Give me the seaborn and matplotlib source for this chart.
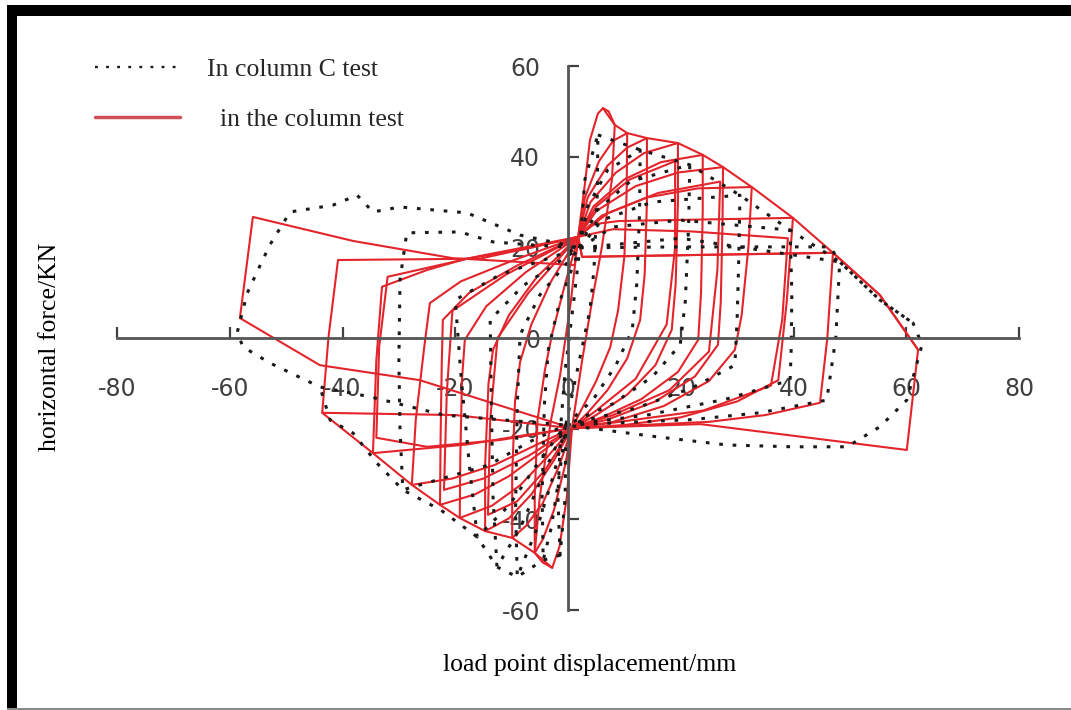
import matplotlib
matplotlib.use('Agg')
import matplotlib.pyplot as plt
import seaborn as sns
import pandas as pd
from matplotlib.lines import Line2D
from matplotlib.patches import Rectangle

# hysteresis curves (displacement mm, force kN)
# red solid: "in the column test"
red_c1 = [(1.8, 22.3), (3.0, 34.0), (3.9, 43.7), (5.3, 49.5), (6.2, 50.7), (7.2, 50.0), (8.3, 47.0),
          (7.8, 35.0), (6.0, 20.0), (4.3, 8.4), (2.5, -5.0), (0.7, -19.9), (-0.2, -35.0), (-1.5, -46.0),
          (-2.8, -50.7), (-4.5, -49.5), (-5.9, -47.4), (-5.0, -35.0), (-3.0, -18.0), (-1.4, -8.2),
          (0.5, 8.0), (1.8, 22.3)]
red_c2 = [(1.8, 22.3), (3.0, 31.0), (5.5, 39.0), (8.0, 43.5), (10.5, 45.2), (10.4, 32.0), (10.0, 18.0),
          (8.9, 6.2), (7.5, -2.0), (5.0, -9.5), (2.5, -15.5), (0.7, -19.9), (-0.5, -28.0), (-2.5, -38.0),
          (-4.5, -44.5), (-5.9, -47.4), (-5.9, -35.0), (-5.4, -18.0), (-4.1, -7.1), (-2.8, 1.0),
          (-0.5, 12.0), (1.8, 22.3)]
red_c3 = [(1.8, 22.3), (3.5, 31.0), (7.0, 38.0), (10.5, 42.0), (14.0, 44.1), (14.0, 30.0), (13.6, 14.0),
          (12.8, 4.0), (10.5, -4.5), (7.0, -11.5), (3.5, -16.5), (0.7, -19.9), (-1.5, -28.0), (-4.5, -36.5),
          (-7.5, -41.5), (-9.9, -44.1), (-9.9, -30.0), (-9.4, -14.0), (-8.5, -5.3), (-6.5, 3.0),
          (-3.0, 12.5), (1.8, 22.3)]
red_c4 = [(1.8, 22.3), (4.0, 30.0), (8.5, 36.5), (13.5, 40.8), (19.5, 43.0), (19.5, 30.0), (19.1, 12.0),
          (18.4, 1.8), (15.5, -6.0), (10.5, -12.5), (5.0, -17.0), (0.7, -19.9), (-2.5, -27.0), (-6.5, -34.5),
          (-10.5, -39.8), (-14.7, -42.6), (-14.7, -28.0), (-14.1, -10.0), (-13.3, -2.6), (-10.5, 5.0),
          (-5.5, 13.5), (1.8, 22.3)]
red_c5 = [(1.8, 22.3), (4.5, 29.0), (10.0, 35.0), (16.5, 38.8), (23.9, 40.4), (23.9, 28.0), (23.6, 10.0),
          (23.1, -0.4), (19.5, -7.5), (13.0, -13.5), (6.0, -17.5), (0.7, -19.9), (-3.5, -26.0),
          (-8.5, -32.5), (-13.5, -37.0), (-19.2, -39.7), (-19.1, -26.0), (-18.8, -9.0), (-18.3, -0.4),
          (-14.5, 7.0), (-7.5, 14.5), (1.8, 22.3)]
red_c6 = [(1.8, 22.3), (5.0, 28.0), (12.0, 33.5), (19.5, 36.5), (27.5, 37.7), (27.4, 25.0), (27.1, 8.0),
          (26.6, -1.5), (22.5, -8.5), (15.5, -14.0), (7.0, -18.0), (0.7, -19.9), (-4.5, -25.0),
          (-10.5, -30.5), (-16.5, -34.5), (-22.7, -36.8), (-22.6, -22.0), (-22.4, -6.0), (-22.2, 4.0),
          (-17.5, 10.0), (-9.0, 16.0), (1.8, 22.3)]
red_c7 = [(1.8, 22.3), (6.0, 27.0), (14.0, 31.0), (23.0, 33.0), (32.6, 33.3), (32.0, 20.0), (30.8, 5.0),
          (29.6, -2.6), (25.0, -9.5), (17.0, -15.0), (8.0, -18.5), (0.7, -19.9), (-5.5, -23.5),
          (-13.0, -28.0), (-20.5, -31.0), (-27.7, -32.4), (-27.0, -18.0), (-25.5, -2.0), (-24.5, 7.7),
          (-19.0, 12.5), (-10.0, 17.0), (1.8, 22.3)]
red_c8 = [(1.8, 22.3), (4.0, 25.0), (9.0, 25.8), (39.9, 26.5), (38.8, 8.0), (37.3, -9.3), (30.0, -14.0),
          (20.0, -17.5), (10.0, -19.2), (0.7, -19.9), (-8.0, -21.5), (-18.0, -23.5), (-34.6, -25.4),
          (-34.0, -5.0), (-33.0, 11.3), (-25.0, 15.0), (-18.0, 17.5), (-8.0, 19.5), (1.8, 22.3)]
red_c9 = [(1.8, 22.3), (2.5, 17.9), (47.0, 18.8), (46.0, 0.0), (44.7, -14.3), (35.0, -17.0), (25.0, -18.5),
          (0.7, -19.9), (-20.0, -17.0), (-43.6, -16.5), (-42.5, 0.0), (-40.8, 17.2), (-15.6, 17.5),
          (1.8, 22.3)]
red_c10 = [(1.8, 22.3), (2.5, 17.9), (47.0, 18.8), (55.3, 9.5), (62.1, -2.6), (60.1, -24.7), (23.5, -19.0),
           (0.7, -19.9), (-26.3, -9.3), (-44.0, -6.0), (-58.2, 4.4), (-55.9, 26.7), (-38.1, 21.4),
           (-20.4, 17.6), (1.2, 16.1), (1.8, 22.3)]
# second cycles at the same amplitudes
red_c4b = [(1.8, 22.3), (5.0, 29.0), (11.0, 35.0), (19.0, 39.0), (19.0, 20.0), (17.5, 3.0), (12.0, -9.0),
           (5.0, -16.0), (0.7, -19.9), (-4.0, -29.0), (-9.0, -36.0), (-14.2, -39.0), (-13.8, -18.0),
           (-12.5, 0.0), (-7.0, 10.0), (1.8, 22.3)]
red_c6b = [(1.8, 22.3), (7.0, 27.5), (16.0, 32.0), (27.0, 34.5), (26.5, 15.0), (25.0, -3.0), (18.0, -11.5),
           (8.0, -17.0), (0.7, -19.9), (-7.0, -26.0), (-15.0, -31.0), (-22.0, -33.5), (-21.5, -12.0),
           (-20.5, 6.0), (-11.0, 14.0), (1.8, 22.3)]
red_c8b = [(1.8, 22.3), (8.0, 24.0), (22.0, 23.5), (39.0, 22.0), (38.0, 4.0), (36.0, -10.5), (24.0, -16.0),
           (0.7, -19.9), (-12.0, -22.5), (-25.0, -24.0), (-34.0, -22.0), (-33.5, -2.0), (-32.0, 13.5),
           (-16.0, 18.0), (1.8, 22.3)]
red_env_pos = [(6.2, 50.7), (8.3, 47.0), (10.5, 45.2), (14.0, 44.1), (19.5, 43.0), (23.9, 40.4), (27.5, 37.7),
               (32.6, 33.3), (39.9, 26.5), (47.0, 18.8), (55.3, 9.5), (62.1, -2.6)]
red_env_neg = [(-2.8, -50.7), (-5.9, -47.4), (-9.9, -44.1), (-14.7, -42.6), (-19.2, -39.7), (-22.7, -36.8),
               (-27.7, -32.4), (-34.6, -25.4), (-43.6, -16.5)]

# black dotted: "In column C test"
blk_c1 = [(2.1, 19.9), (3.0, 35.0), (5.3, 44.8), (5.2, 32.0), (4.6, 15.0), (3.9, 6.2), (1.5, -8.0),
          (-0.4, -19.2), (-0.5, -35.0), (-1.4, -47.9), (-1.8, -35.0), (-1.2, -18.0), (-0.5, -7.1),
          (1.0, 8.0), (2.1, 19.9)]
blk_c2 = [(2.1, 19.9), (3.5, 29.0), (7.0, 37.0), (12.8, 41.5), (12.7, 28.0), (12.2, 12.0), (11.4, 1.8),
          (8.5, -6.0), (4.5, -13.5), (-0.4, -19.2), (-1.5, -30.0), (-3.0, -42.0), (-4.4, -49.0),
          (-4.6, -35.0), (-4.2, -15.0), (-3.5, -2.6), (-1.5, 8.0), (2.1, 19.9)]
blk_c3 = [(2.1, 19.9), (5.0, 28.0), (11.0, 34.5), (21.6, 38.2), (21.4, 25.0), (20.8, 8.0), (19.9, -1.5),
          (15.0, -8.5), (8.0, -14.5), (-0.4, -19.2), (-2.5, -30.0), (-5.5, -42.0), (-9.0, -52.7),
          (-9.3, -38.0), (-9.0, -15.0), (-8.5, 0.7), (-5.0, 9.5), (2.1, 19.9)]
blk_c4 = [(2.1, 19.9), (6.0, 26.0), (15.0, 30.0), (30.5, 31.5), (30.3, 18.0), (30.0, 4.0), (29.6, -6.0),
          (22.0, -11.0), (12.0, -15.5), (-0.4, -19.2), (-4.0, -29.0), (-8.5, -42.0), (-12.6, -50.5),
          (-13.3, -35.0), (-13.6, -14.0), (-13.8, 4.0), (-8.0, 11.5), (2.1, 19.9)]
blk_c5 = [(2.1, 19.9), (8.0, 24.5), (20.0, 26.0), (39.4, 23.8), (39.7, 10.0), (39.6, -2.0), (39.4, -9.3),
          (28.0, -13.5), (14.0, -17.0), (-0.4, -19.2), (-5.0, -27.0), (-10.5, -37.0), (-16.1, -43.9),
          (-17.5, -28.0), (-19.0, -8.0), (-20.0, 8.4), (-12.0, 14.0), (2.1, 19.9)]
blk_c6 = [(2.1, 19.9), (20.0, 22.0), (48.2, 16.8), (47.5, 0.0), (45.9, -13.7), (34.0, -16.5), (22.0, -18.0),
          (-0.4, -19.2), (-7.0, -23.0), (-14.0, -28.0), (-29.3, -33.5), (-29.8, -20.0), (-30.0, -5.0),
          (-29.8, 12.8), (-28.6, 23.2), (-19.2, 23.4), (-13.3, 21.2), (-6.2, 20.5), (2.1, 19.9)]
blk_c7 = [(2.1, 19.9), (20.0, 20.1), (46.5, 20.1), (48.2, 16.8), (55.3, 8.4), (61.2, 3.3), (62.8, -1.5),
          (60.1, -13.7), (55.3, -19.6), (49.5, -24.0), (39.9, -24.0), (28.2, -23.6), (15.8, -21.8),
          (-0.4, -19.2), (-22.0, -17.0), (-35.0, -13.0), (-44.0, -10.8), (-52.9, -5.5), (-57.6, -2.0),
          (-58.7, 1.1), (-56.9, 9.9), (-55.0, 15.0), (-52.9, 20.5), (-49.3, 27.8), (-41.7, 29.3),
          (-37.4, 31.5), (-34.6, 27.8), (-29.8, 28.9), (-17.9, 27.6), (-8.5, 22.7), (2.1, 19.9)]
blk_env_pos = [(5.3, 44.8), (12.8, 41.5), (21.6, 38.2), (30.5, 31.5), (39.4, 23.8), (48.2, 16.8),
               (55.3, 8.4), (61.2, 3.3)]
blk_env_neg = [(-1.4, -47.9), (-4.4, -49.0), (-9.0, -52.7), (-12.6, -50.5), (-16.1, -43.9), (-22.5, -38.0),
               (-29.3, -33.5), (-33.9, -27.6), (-38.1, -21.0), (-42.2, -18.1), (-44.0, -10.8)]

x_ticks = [-80, -60, -40, -20, 0, 20, 40, 60, 80]
y_ticks = [-60, -40, -20, 0, 20, 40, 60]
legend_labels = ['In column C test', '  in the column test']

red_curves = [red_c1, red_c2, red_c3, red_c4, red_c5, red_c6, red_c7, red_c8, red_c9, red_c10,
              red_c4b, red_c6b, red_c8b, red_env_pos, red_env_neg]
blk_curves = [blk_c1, blk_c2, blk_c3, blk_c4, blk_c5, blk_c6, blk_c7, blk_env_pos, blk_env_neg]


def to_frame(curves):
    rows = []
    for i, pts in enumerate(curves):
        for x, y in pts:
            rows.append({'cycle': i, 'x': x, 'y': y})
    return pd.DataFrame(rows)


red_df = to_frame(red_curves)
blk_df = to_frame(blk_curves)

RED = '#e3242b'
DOT = (0, (1.2, 3.2))

sns.set_theme(style='ticks')
plt.rcParams['font.family'] = ['Liberation Serif', 'DejaVu Serif']
plt.rcParams['axes.unicode_minus'] = False

fig = plt.figure(figsize=(10.71, 7.10), dpi=100)
ax = fig.add_axes([117 / 1071, 1 - 610 / 710, 902 / 1071, 544 / 710])

sns.lineplot(data=red_df, x='x', y='y', units='cycle', estimator=None, sort=False,
             color=RED, linewidth=1.5, ax=ax)
sns.lineplot(data=blk_df, x='x', y='y', units='cycle', estimator=None, sort=False,
             color='#1a1a1a', linewidth=2.2, linestyle=DOT, ax=ax)

ax.set_xlim(-80, 80)
ax.set_ylim(-60, 60)
ax.set_xticks(x_ticks)
ax.set_yticks(y_ticks)

for side in ['top', 'right']:
    ax.spines[side].set_visible(False)
for side in ['left', 'bottom']:
    ax.spines[side].set_position(('data', 0))
    ax.spines[side].set_color('#555555')
    ax.spines[side].set_linewidth(2)

ax.tick_params(axis='x', direction='in', length=8, width=1.6, colors='#404040', pad=28, labelsize=17)
ax.tick_params(axis='y', direction='in', length=8, width=1.6, colors='#404040', pad=20, labelsize=17)
for lbl in ax.get_xticklabels() + ax.get_yticklabels():
    lbl.set_fontfamily('DejaVu Sans')

ax.set_xlabel('load point displacement/mm', fontsize=18.5, va='center', color='black')
ax.xaxis.set_label_coords(0.524, -0.101)
ax.set_ylabel('horizontal force/KN', fontsize=18.5, va='center', ha='center', color='black')
ax.yaxis.set_label_coords(-0.0743, 0.483)

handles = [Line2D([], [], color='#1a1a1a', linewidth=1.7, linestyle=(0, (1.2, 3.5))),
           Line2D([], [], color='#d0505a', linewidth=2.5)]
ax.legend(handles=handles, labels=legend_labels, loc='upper left',
          bbox_to_anchor=(95 / 1071, 1 - 58 / 710), bbox_transform=fig.transFigure,
          frameon=False, fontsize=18.5, handlelength=3.3, handletextpad=1.05,
          labelspacing=1.05, borderpad=0, borderaxespad=0)

# frame of the scanned figure
fig.add_artist(Rectangle((7 / 1071, 1 - 16 / 710), 1, 11 / 710, transform=fig.transFigure,
                         color='black', lw=0))
fig.add_artist(Rectangle((7 / 1071, 0), 10 / 1071, 1 - 5 / 710, transform=fig.transFigure,
                         color='black', lw=0))
fig.add_artist(Rectangle((7 / 1071, 0), 1, 2 / 710, transform=fig.transFigure,
                         color='#8a8a8a', lw=0))

fig.savefig('out.png', dpi=100)
